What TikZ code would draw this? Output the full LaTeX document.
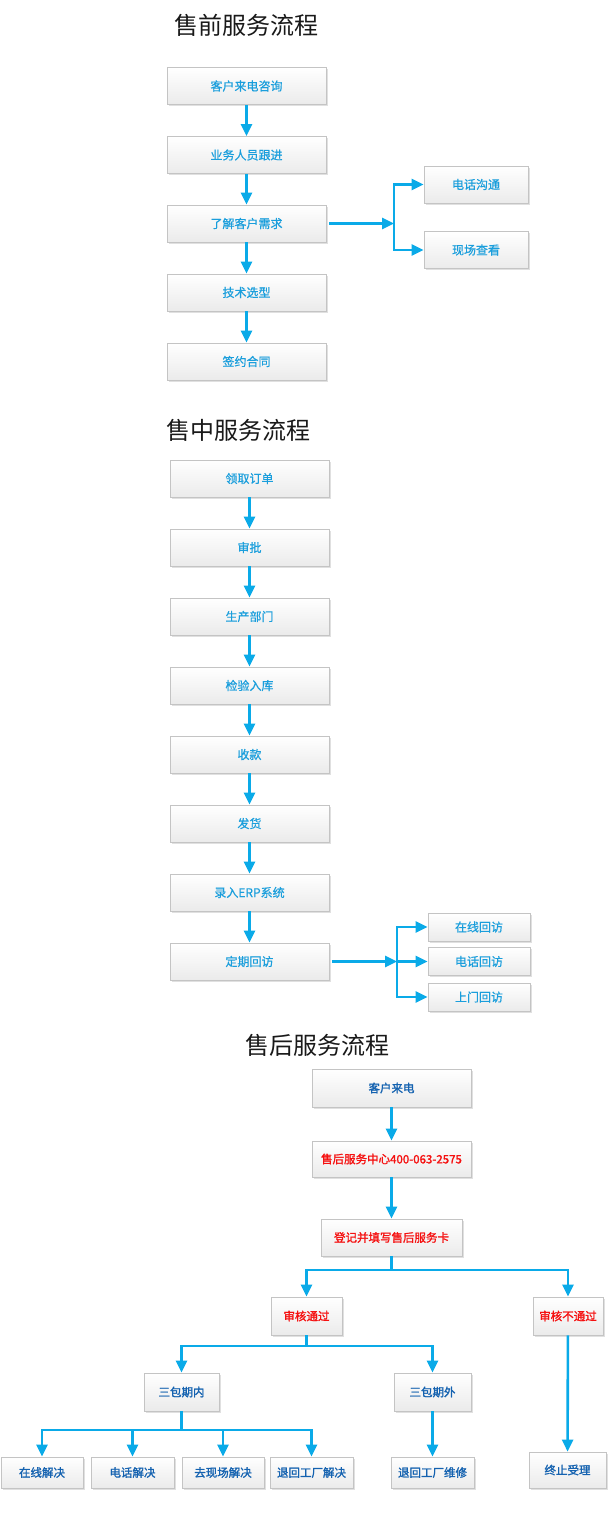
\documentclass[tikz,border=0pt]{standalone}
\usepackage{fontspec}
\usetikzlibrary{arrows.meta,shadows}
\newfontfamily\cjk{Noto Sans CJK SC}
\newfontfamily\cjkm[FakeBold=0.6]{Noto Sans CJK SC}
\newfontfamily\cjkb[FakeBold=1.6]{Noto Sans CJK SC}
\definecolor{arrc}{HTML}{0AAAE8}
\definecolor{txtc}{HTML}{1A9EDC}
\definecolor{dblue}{HTML}{1462B0}
\definecolor{redc}{HTML}{F51010}
\definecolor{bord}{HTML}{C4C4C4}
\tikzset{
  box/.style={draw=bord, line width=0.8pt, top color=white, bottom color=black!8,
    drop shadow={shadow xshift=1.5pt, shadow yshift=-1.5pt, opacity=0.3, fill=black!40},
    inner sep=0pt, font=\cjkm\fontsize{12}{14}\selectfont, text=txtc},
  bbox/.style={box, font=\cjkb\fontsize{11.5}{14}\selectfont, text=dblue},
  rbox/.style={box, font=\cjkb\fontsize{11.5}{14}\selectfont, text=redc},
  arr/.style={draw=arrc, line width=2.6pt, -{Triangle[length=12pt,width=11pt]}},
  plain/.style={draw=arrc, line width=2.6pt},
  ttl/.style={font=\cjk\fontsize{24}{28}\selectfont, text=black!90, inner sep=0pt}
}
\begin{document}
\begin{tikzpicture}[x=1pt,y=-1pt]
\useasboundingbox (0,0) rectangle (608,1527);
\fill[white] (0,0) rectangle (608,1527);

% ---------- Section 1 ----------
\node[ttl] (t1) at (246.5,25) {售前服务流程};
\begin{scope}[every node/.style={box, minimum width=159pt, minimum height=37pt}]
\node (a1) at (246.5,86) {客户来电咨询};
\node (a2) at (246.5,155) {业务人员跟进};
\node (a3) at (246.5,223.5) {了解客户需求};
\node (a4) at (246.5,292.5) {技术选型};
\node (a5) at (246.5,361.5) {签约合同};
\end{scope}
\begin{scope}[every node/.style={box, minimum width=104pt, minimum height=37pt}]
\node (a6) at (476,184.5) {电话沟通};
\node (a7) at (476,250) {现场查看};
\end{scope}
\draw[arr] (a1) -- (a2);
\draw[arr] (a2) -- (a3);
\draw[arr] (a3) -- (a4);
\draw[arr] (a4) -- (a5);
\coordinate (b1) at (394,223.5);
\draw[arr] ([xshift=3pt]a3.east) -- (b1);
\draw[arr] (b1) |- (a6.west);
\draw[arr] (b1) |- (a7.west);

% ---------- Section 2 ----------
\node[ttl] (t2) at (238,430) {售中服务流程};
\begin{scope}[every node/.style={box, minimum width=159pt, minimum height=37pt}]
\node (m1) at (249.5,478.5) {领取订单};
\node (m2) at (249.5,547.5) {审批};
\node (m3) at (249.5,616.5) {生产部门};
\node (m4) at (249.5,685.5) {检验入库};
\node (m5) at (249.5,754.5) {收款};
\node (m6) at (249.5,823.5) {发货};
\node (m7) at (249.5,892.5) {录入ERP系统};
\node (m8) at (249.5,961.5) {定期回访};
\end{scope}
\begin{scope}[every node/.style={box, minimum width=102pt, minimum height=28pt}]
\node (m9) at (479,927) {在线回访};
\node (m10) at (479,961.5) {电话回访};
\node (m11) at (479,997) {上门回访};
\end{scope}
\draw[arr] (m1) -- (m2);
\draw[arr] (m2) -- (m3);
\draw[arr] (m3) -- (m4);
\draw[arr] (m4) -- (m5);
\draw[arr] (m5) -- (m6);
\draw[arr] (m6) -- (m7);
\draw[arr] (m7) -- (m8);
\coordinate (b2) at (397,961.5);
\draw[arr] ([xshift=3pt]m8.east) -- (b2);
\draw[arr] (b2) |- (m9.west);
\draw[arr] (b2) -- (m10.west);
\draw[arr] (b2) |- (m11.west);

% ---------- Section 3 ----------
\node[ttl] (t3) at (317.5,1045) {售后服务流程};
\node[bbox, minimum width=159pt, minimum height=38pt] (s1) at (391.5,1088) {客户来电};
\node[rbox, minimum width=159pt, minimum height=36pt] (s2) at (391.5,1159) {售后服务中心400-063-2575};
\node[rbox, minimum width=141pt, minimum height=37pt] (s3) at (391.5,1237.5) {登记并填写售后服务卡};
\node[rbox, minimum width=71pt, minimum height=38pt] (s4) at (306.5,1316) {审核通过};
\node[rbox, minimum width=70pt, minimum height=38pt] (s5) at (568,1316) {审核不通过};
\node[bbox, minimum width=75pt, minimum height=38pt] (s6) at (181.5,1392) {三包期内};
\node[bbox, minimum width=77pt, minimum height=38pt] (s7) at (432.5,1392) {三包期外};
\begin{scope}[every node/.style={bbox, minimum height=31pt}]
\node[minimum width=82pt] (s8) at (42,1472.5) {在线解决};
\node[minimum width=83pt] (s9) at (132.5,1472.5) {电话解决};
\node[minimum width=82pt] (s10) at (223,1472.5) {去现场解决};
\node[minimum width=83pt] (s11) at (311.5,1472.5) {退回工厂解决};
\node[minimum width=83pt] (s12) at (432.5,1472.5) {退回工厂维修};
\end{scope}
\node[bbox, minimum width=77pt, minimum height=36pt] (s13) at (567.5,1470) {终止受理};

\draw[arr] (s1) -- (s2);
\draw[arr] (s2) -- (s3);
\coordinate (c1) at (391.5,1270);
\draw[plain] (s3.south) -- (c1);
\draw[arr] (c1) -| (s4.north);
\draw[arr] (c1) -| (s5.north);
\coordinate (c2) at (306.5,1346);
\draw[plain] (s4.south) -- (c2);
\draw[arr] (c2) -| (s6.north);
\draw[arr] (c2) -| (s7.north);
\coordinate (c3) at (181.5,1430);
\draw[plain] (s6.south) -- (c3);
\draw[arr] (c3) -| (s8.north);
\draw[arr] (c3) -| (s9.north);
\draw[arr] (c3) -| (s10.north);
\draw[arr] (c3) -| (s11.north);
\draw[arr] (s7) -- (s12);
\draw[arr] (s5) -- (s13);
\end{tikzpicture}
\end{document}
